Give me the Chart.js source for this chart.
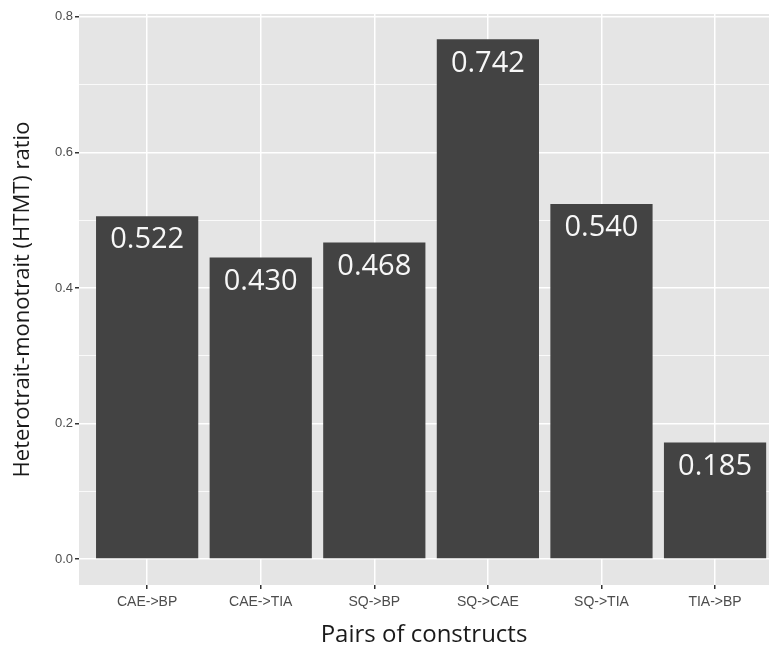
<!DOCTYPE html>
<html>
<head>
<meta charset="utf-8">
<script src="https://cdn.jsdelivr.net/npm/chart.js@4"></script>
<style>
  html, body { margin: 0; padding: 0; background: #ffffff; }
  #wrap { width: 769px; height: 650px; }
</style>
</head>
<body>
<div id="wrap"><canvas id="htmt-chart"></canvas></div>
<script>
// -- THE DATA --
const categories = ["CAE->BP", "CAE->TIA", "SQ->BP", "SQ->CAE", "SQ->TIA", "TIA->BP"];
const barHeights = [0.506, 0.445, 0.467, 0.767, 0.524, 0.172]; // bar tops as drawn
const barLabels = ["0.522", "0.430", "0.468", "0.742", "0.540", "0.185"]; // printed values
const yTicks = [0, 0.1, 0.2, 0.3, 0.4, 0.5, 0.6, 0.7, 0.8];

// -- THE CHART --
const isMajor = v => Math.round(v * 10) % 2 === 0;

// grey panel behind the bars
const panelBg = {
  id: 'panelBg',
  beforeDraw(chart) {
    const a = chart.chartArea, ctx = chart.ctx;
    ctx.save();
    ctx.fillStyle = '#e5e5e5';
    ctx.fillRect(a.left, a.top, a.right - a.left, a.bottom - a.top);
    ctx.restore();
  }
};

// white value labels inside the top of each bar
const valueLabels = {
  id: 'valueLabels',
  afterDatasetsDraw(chart) {
    const ctx = chart.ctx;
    const meta = chart.getDatasetMeta(0);
    ctx.save();
    ctx.fillStyle = '#f7f7f7';
    ctx.font = '29px "Open Sans"';
    ctx.textAlign = 'center';
    ctx.textBaseline = 'middle';
    meta.data.forEach((bar, i) => {
      ctx.fillText(barLabels[i], bar.x, bar.y + 24);
    });
    ctx.restore();
  }
};

new Chart(document.getElementById('htmt-chart'), {
  type: 'bar',
  data: {
    datasets: [{
      data: categories.map((c, i) => ({ x: i + 1, y: barHeights[i] })),
      backgroundColor: '#434343',
      borderWidth: 0,
      barPercentage: 0.9,
      categoryPercentage: 1
    }]
  },
  options: {
    responsive: true,
    maintainAspectRatio: false,
    animation: false,
    layout: { padding: { top: 14, right: 0, left: 0, bottom: 0 } },
    plugins: { legend: { display: false }, tooltip: { enabled: false } },
    scales: {
      x: {
        type: 'linear',
        offset: false,
        min: 0.4,
        max: 6.475,
        afterBuildTicks: s => { s.ticks = categories.map((c, i) => ({ value: i + 1 })); },
        afterFit: s => { s.height = 65; },
        ticks: {
          autoSkip: false,
          maxRotation: 0,
          padding: 5,
          color: '#4d4d4d',
          font: { family: '"Liberation Sans", Arial', size: 14 },
          callback: v => categories[v - 1]
        },
        grid: { offset: false, color: '#ffffff', lineWidth: 1.5, tickLength: 4, tickColor: '#333333' },
        border: { display: false },
        title: {
          display: true,
          text: 'Pairs of constructs',
          color: '#1a1a1a',
          font: { family: '"Open Sans"', size: 24 },
          padding: { top: 0, bottom: 0 }
        }
      },
      y: {
        min: -0.0383,
        max: 0.8043,
        afterBuildTicks: s => { s.ticks = yTicks.map(v => ({ value: v })); },
        afterFit: s => { s.width = 79; },
        ticks: {
          autoSkip: false,
          padding: 2,
          color: '#4d4d4d',
          font: { family: '"Liberation Sans", Arial', size: 13 },
          callback: v => isMajor(v) ? v.toFixed(1) : ''
        },
        grid: {
          color: '#ffffff',
          lineWidth: c => isMajor(c.tick.value) ? 1.5 : 0.8,
          tickLength: 4,
          tickColor: c => isMajor(c.tick.value) ? '#333333' : 'rgba(0,0,0,0)'
        },
        border: { display: false },
        title: {
          display: true,
          text: 'Heterotrait-monotrait (HTMT) ratio',
          color: '#1a1a1a',
          font: { family: '"Open Sans"', size: 22 },
          padding: { top: 10, bottom: 0 }
        }
      }
    }
  },
  plugins: [panelBg, valueLabels]
});
</script>
</body>
</html>
